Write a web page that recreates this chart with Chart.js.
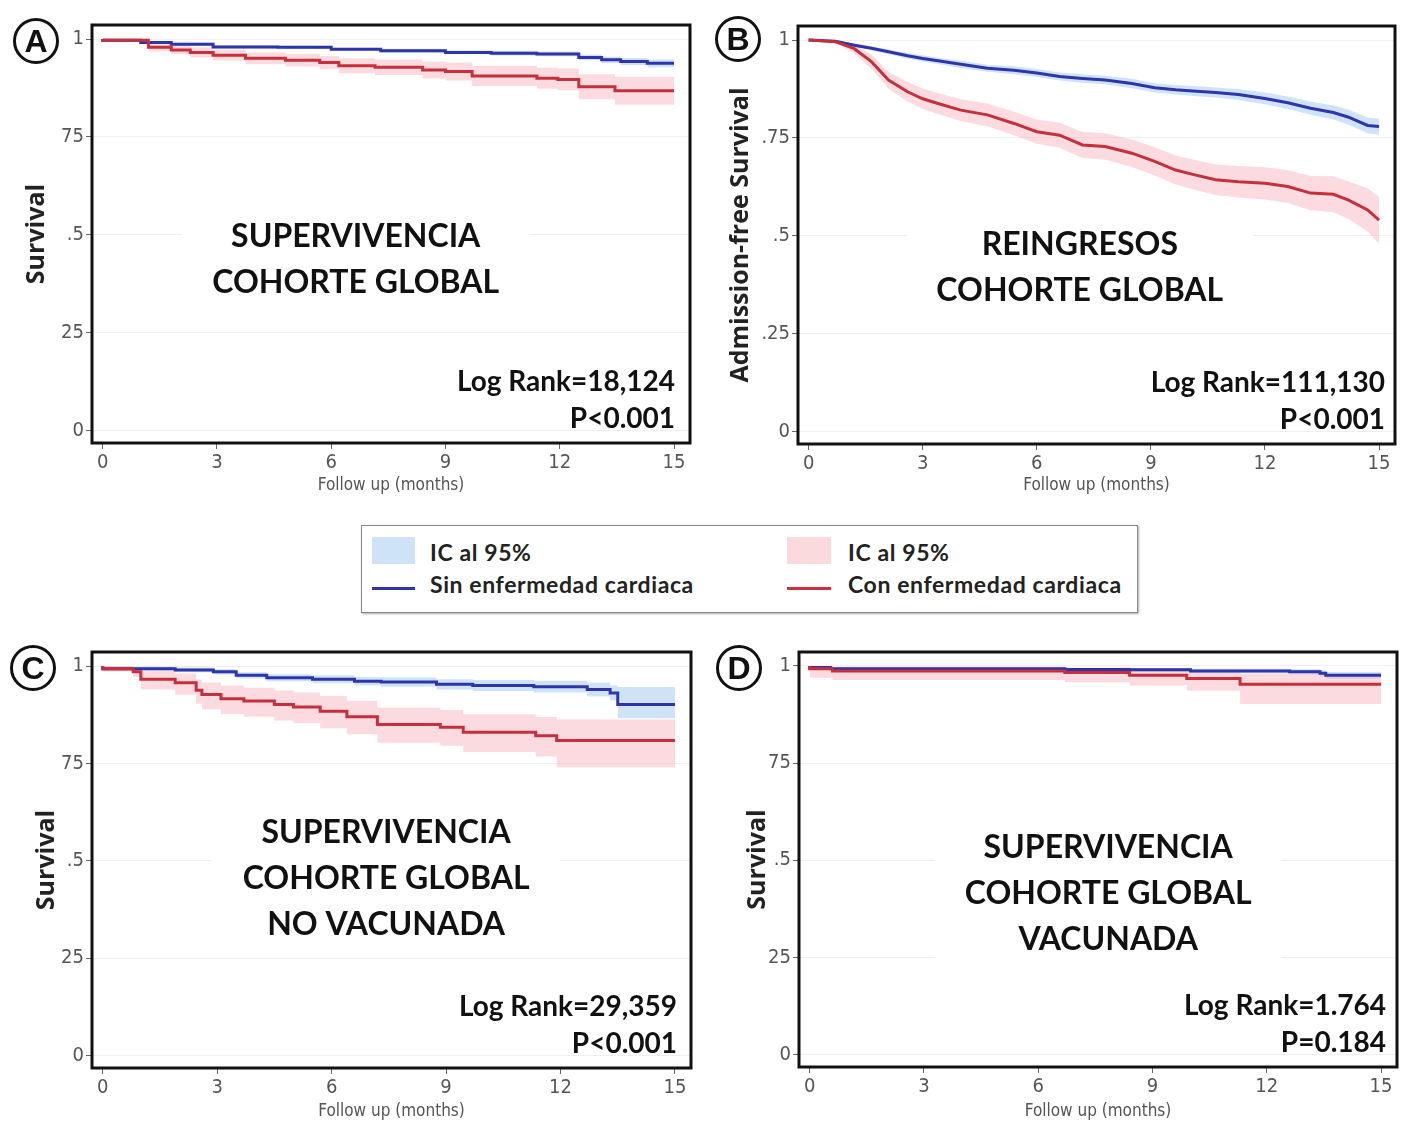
<!DOCTYPE html>
<html>
<head>
<meta charset="utf-8">
<script src="https://cdn.jsdelivr.net/npm/chart.js@4.4.1/dist/chart.umd.min.js"></script>
<style>
body { margin: 0; background: #fff; width: 1403px; height: 1126px; position: relative; overflow: hidden; font-family: Lato, sans-serif; }
canvas { position: absolute; }
.badge { position: absolute; width: 40px; height: 40px; border: 3px solid #111; border-radius: 50%; font: bold 32px "Liberation Sans", Arial, sans-serif; color: #111; text-align: center; line-height: 40px; }
.legend { position: absolute; left: 361px; top: 525px; width: 775px; height: 86px; border: 1px solid #888; box-shadow: 1px 1px 2px #aaa; background: #fff; }
.legend div { position: absolute; }
.legend span { position: absolute; font: bold 23px Lato, sans-serif; letter-spacing: 0.6px; color: #222; white-space: nowrap; }
</style>
</head>
<body>
<canvas id="chartA" width="700" height="500" style="left:0;top:0"></canvas>
<canvas id="chartB" width="703" height="500" style="left:700px;top:0"></canvas>
<canvas id="chartC" width="700" height="496" style="left:0;top:630px"></canvas>
<canvas id="chartD" width="703" height="496" style="left:700px;top:630px"></canvas>

<div class="badge" style="left:13px;top:18px">A</div>
<div class="badge" style="left:715px;top:16px">B</div>
<div class="badge" style="left:10px;top:645px">C</div>
<div class="badge" style="left:716px;top:645px">D</div>

<div class="legend">
  <div style="left:10px;top:11px;width:43px;height:27px;background:#cfe3f8"></div>
  <span style="left:68px;top:12px">IC al 95%</span>
  <div style="left:10px;top:61px;width:43px;height:3px;background:#2e35a8"></div>
  <span style="left:68px;top:44px">Sin enfermedad cardiaca</span>
  <div style="left:425px;top:11px;width:44px;height:27px;background:#fbdadd"></div>
  <span style="left:486px;top:12px">IC al 95%</span>
  <div style="left:425px;top:61px;width:44px;height:3px;background:#c9333d"></div>
  <span style="left:486px;top:44px">Con enfermedad cardiaca</span>
</div>

<script>
// follow-up axis
var xTicks = [0, 3, 6, 9, 12, 15];
var xLabels = ['0', '3', '6', '9', '12', '15'];
var yTicks = [0, 0.25, 0.5, 0.75, 1];
var yLabelsSurv = ['0', '25', '.5', '75', '1'];
var yLabelsAdm = ['0', '.25', '.5', '.75', '1'];

// A: supervivencia cohorte global
var aBlueT  = [0, 1.0, 1.8, 2.9, 4.6, 6.0, 7.3, 9.0, 10.2, 11.4, 12.5, 13.1, 13.6, 14.3, 15];
var aBlueS  = [1, 0.997, 0.991, 0.987, 0.980, 0.979, 0.974, 0.970, 0.966, 0.964, 0.962, 0.953, 0.947, 0.943, 0.938];
var aBlueLo = [1, 0.995, 0.988, 0.983, 0.976, 0.975, 0.970, 0.965, 0.961, 0.958, 0.956, 0.946, 0.939, 0.934, 0.928];
var aBlueHi = [1, 0.999, 0.994, 0.991, 0.984, 0.983, 0.978, 0.975, 0.971, 0.970, 0.968, 0.960, 0.955, 0.952, 0.948];
var aRedT  = [0, 1.2, 1.8, 2.3, 2.9, 3.75, 4.8, 5.7, 6.2, 7.15, 8.4, 9.0, 9.7, 11.4, 11.95, 12.5, 13.45, 14.95, 15];
var aRedS  = [1, 0.997, 0.979, 0.972, 0.966, 0.959, 0.951, 0.946, 0.940, 0.932, 0.928, 0.921, 0.917, 0.906, 0.900, 0.897, 0.878, 0.868, 0.868];
var aRedLo = [1, 0.994, 0.969, 0.961, 0.953, 0.945, 0.936, 0.930, 0.923, 0.913, 0.908, 0.899, 0.894, 0.880, 0.873, 0.869, 0.846, 0.832, 0.832];
var aRedHi = [1, 1.000, 0.989, 0.983, 0.979, 0.973, 0.966, 0.962, 0.957, 0.951, 0.948, 0.943, 0.940, 0.932, 0.927, 0.925, 0.910, 0.904, 0.904];

// B: reingresos cohorte global
var bT = [0, 0.7, 1.2, 1.65, 2.1, 2.6, 3.0, 3.4, 4.0, 4.7, 5.4, 6.0, 6.6, 7.2, 7.8, 8.5, 9.1, 9.65, 10.1, 10.7, 11.3, 12.0, 12.6, 13.2, 13.8, 14.2, 14.7, 15];
var bBlueS  = [1, 0.997, 0.987, 0.979, 0.970, 0.960, 0.953, 0.947, 0.938, 0.928, 0.923, 0.916, 0.907, 0.902, 0.898, 0.889, 0.878, 0.873, 0.870, 0.866, 0.861, 0.851, 0.840, 0.826, 0.815, 0.803, 0.782, 0.779];
var bBlueLo = [1, 0.995, 0.983, 0.974, 0.964, 0.953, 0.945, 0.939, 0.929, 0.919, 0.913, 0.906, 0.897, 0.891, 0.887, 0.877, 0.866, 0.861, 0.857, 0.853, 0.847, 0.836, 0.824, 0.809, 0.797, 0.784, 0.762, 0.759];
var bBlueHi = [1, 0.999, 0.991, 0.984, 0.976, 0.967, 0.961, 0.955, 0.947, 0.937, 0.933, 0.926, 0.917, 0.913, 0.909, 0.901, 0.890, 0.885, 0.883, 0.879, 0.875, 0.866, 0.856, 0.843, 0.833, 0.822, 0.802, 0.799];
var bRedS  = [1, 0.996, 0.978, 0.945, 0.898, 0.868, 0.850, 0.838, 0.821, 0.809, 0.787, 0.766, 0.757, 0.732, 0.728, 0.711, 0.690, 0.668, 0.657, 0.643, 0.638, 0.634, 0.626, 0.609, 0.606, 0.591, 0.566, 0.540];
var bRedLo = [1, 0.992, 0.966, 0.927, 0.876, 0.843, 0.824, 0.811, 0.793, 0.780, 0.757, 0.735, 0.725, 0.699, 0.694, 0.676, 0.654, 0.631, 0.619, 0.604, 0.598, 0.593, 0.584, 0.565, 0.560, 0.543, 0.511, 0.480];
var bRedHi = [1, 1.000, 0.990, 0.963, 0.920, 0.893, 0.876, 0.865, 0.849, 0.838, 0.817, 0.797, 0.789, 0.765, 0.762, 0.746, 0.726, 0.705, 0.695, 0.682, 0.678, 0.675, 0.668, 0.653, 0.652, 0.639, 0.621, 0.600];

// C: no vacunada
var cBlueT  = [0, 1.9, 2.9, 3.5, 4.3, 5.5, 6.6, 7.3, 8.75, 9.7, 11.3, 12.7, 13.3, 13.5, 14.3, 15];
var cBlueS  = [1, 0.993, 0.990, 0.985, 0.976, 0.970, 0.966, 0.961, 0.959, 0.953, 0.950, 0.947, 0.940, 0.931, 0.901, 0.901];
var cBlueLo = [1, 0.988, 0.984, 0.978, 0.968, 0.961, 0.956, 0.950, 0.947, 0.940, 0.936, 0.932, 0.922, 0.912, 0.866, 0.866];
var cBlueHi = [1, 0.998, 0.996, 0.992, 0.984, 0.979, 0.976, 0.972, 0.971, 0.966, 0.964, 0.962, 0.958, 0.950, 0.946, 0.946];
var cRedT  = [0, 0.8, 1.0, 1.9, 2.45, 2.6, 3.1, 3.7, 4.5, 5.0, 5.7, 6.4, 7.2, 8.85, 9.45, 11.35, 11.9, 13.1, 15];
var cRedS  = [1, 0.993, 0.985, 0.966, 0.957, 0.938, 0.927, 0.916, 0.910, 0.901, 0.895, 0.884, 0.870, 0.850, 0.843, 0.830, 0.821, 0.809, 0.809];
var cRedLo = [1, 0.985, 0.972, 0.940, 0.926, 0.903, 0.889, 0.877, 0.870, 0.860, 0.853, 0.840, 0.825, 0.803, 0.795, 0.779, 0.768, 0.740, 0.740];
var cRedHi = [1, 1.000, 0.996, 0.987, 0.981, 0.965, 0.958, 0.950, 0.944, 0.937, 0.932, 0.923, 0.911, 0.893, 0.887, 0.876, 0.869, 0.863, 0.863];

// D: vacunada
var dBlueT  = [0, 0.55, 6.7, 8.4, 10.0, 12.6, 13.4, 13.55, 14.35, 15];
var dBlueS  = [1, 0.996, 0.993, 0.991, 0.990, 0.987, 0.985, 0.981, 0.976, 0.976];
var dBlueLo = [1, 0.993, 0.989, 0.987, 0.985, 0.981, 0.978, 0.973, 0.967, 0.967];
var dBlueHi = [1, 0.999, 0.997, 0.995, 0.995, 0.993, 0.992, 0.989, 0.985, 0.985];
var dRedT  = [0, 0.6, 6.7, 8.4, 9.9, 11.3, 13.45, 15];
var dRedS  = [1, 0.993, 0.987, 0.983, 0.976, 0.968, 0.953, 0.953];
var dRedLo = [1, 0.970, 0.964, 0.958, 0.950, 0.936, 0.902, 0.902];
var dRedHi = [1, 1.000, 0.998, 0.996, 0.992, 0.988, 0.980, 0.980];

var BLUE = '#2e35a8';
var RED = '#c4303b';
var BLUE_BAND = 'rgba(160, 200, 242, 0.5)';
var RED_BAND = 'rgba(246, 170, 178, 0.42)';
var AXIS_FONT = "'Liberation Sans Narrow', 'DejaVu Sans Condensed', sans-serif";

function pts(t, s) {
    return t.map(function (x, i) { return { x: x, y: s[i] }; });
}

function kmSets(bt, bs, blo, bhi, rt, rs, rlo, rhi, stepped) {
    var base = { pointRadius: 0, stepped: stepped, tension: 0 };
    return [
        Object.assign({ data: pts(bt, bhi), borderWidth: 0, fill: false, order: 6 }, base),
        Object.assign({ data: pts(bt, blo), borderWidth: 0, fill: '-1', backgroundColor: BLUE_BAND, order: 5 }, base),
        Object.assign({ data: pts(rt, rhi), borderWidth: 0, fill: false, order: 4 }, base),
        Object.assign({ data: pts(rt, rlo), borderWidth: 0, fill: '-1', backgroundColor: RED_BAND, order: 3 }, base),
        Object.assign({ data: pts(bt, bs), borderColor: BLUE, borderWidth: 3, fill: false, order: 2 }, base),
        Object.assign({ data: pts(rt, rs), borderColor: RED, borderWidth: 3, fill: false, order: 1 }, base)
    ];
}

// frame box + panel captions
var panelText = {
    id: 'panelText',
    beforeDatasetsDraw: function (chart, args, opts) {
        var ctx = chart.ctx, a = chart.chartArea;
        var cx = a.left + opts.cx * (a.right - a.left);
        var cy = a.top + opts.cy * (a.bottom - a.top);
        ctx.save();
        ctx.font = 'bold 32px Lato, sans-serif';
        var w = 0;
        opts.lines.forEach(function (t) { w = Math.max(w, ctx.measureText(t).width); });
        ctx.fillStyle = '#fff';
        ctx.fillRect(cx - w / 2 - 30, cy - 25, w + 60, opts.lines.length * 46 + 4);
        ctx.fillStyle = '#111';
        ctx.textAlign = 'center';
        ctx.textBaseline = 'middle';
        opts.lines.forEach(function (t, i) { ctx.fillText(t, cx, cy + i * 46); });
        ctx.font = 'bold 28px Lato, sans-serif';
        ctx.textAlign = 'right';
        ctx.fillText(opts.stats[0], a.right - opts.inset, a.bottom - 61);
        ctx.fillText(opts.stats[1], a.right - opts.inset, a.bottom - 24);
        ctx.restore();
    },
    afterDraw: function (chart) {
        var ctx = chart.ctx, a = chart.chartArea;
        ctx.save();
        ctx.lineWidth = 3;
        ctx.strokeStyle = '#111';
        ctx.strokeRect(a.left, a.top, a.right - a.left, a.bottom - a.top);
        ctx.restore();
    }
};

function makeChart(id, cfg) {
    new Chart(document.getElementById(id), {
        type: 'line',
        data: { datasets: cfg.datasets },
        plugins: [panelText],
        options: {
            responsive: false,
            animation: false,
            layout: { padding: cfg.padding },
            plugins: {
                legend: { display: false },
                tooltip: { enabled: false },
                panelText: cfg.text
            },
            scales: {
                x: {
                    type: 'linear',
                    min: -0.28,
                    max: 15.42,
                    afterBuildTicks: function (s) { s.ticks = xTicks.map(function (v) { return { value: v }; }); },
                    afterFit: function (s) { s.height = cfg.xHeight; },
                    grid: { drawOnChartArea: false, drawTicks: true, tickLength: 6, tickColor: '#666' },
                    border: { display: false },
                    ticks: {
                        color: '#555', padding: 2, maxRotation: 0, autoSkip: false,
                        font: { family: AXIS_FONT, size: 20 },
                        callback: function (v, i) { return xLabels[i]; }
                    },
                    title: {
                        display: true, text: 'Follow up (months)', color: '#555',
                        font: { family: AXIS_FONT, size: 17 }, padding: { top: 0, bottom: 4 }
                    }
                },
                y: {
                    min: -0.032,
                    max: 1.036,
                    afterBuildTicks: function (s) { s.ticks = yTicks.map(function (v) { return { value: v }; }); },
                    afterFit: function (s) { s.width = cfg.yWidth; },
                    grid: { color: '#efefef', drawTicks: true, tickLength: 6, tickColor: '#666' },
                    border: { display: false },
                    ticks: {
                        color: '#555', padding: 2, autoSkip: false,
                        font: { family: AXIS_FONT, size: 20 },
                        callback: function (v, i) { return cfg.yLabels[i]; }
                    },
                    title: {
                        display: true, text: cfg.yTitle, color: '#222',
                        font: { family: "'Open Sans', sans-serif", size: 25, weight: 'bold' },
                        padding: { top: cfg.yTitlePad, bottom: 0 }
                    }
                }
            }
        }
    });
}

makeChart('chartA', {
    datasets: kmSets(aBlueT, aBlueS, aBlueLo, aBlueHi, aRedT, aRedS, aRedLo, aRedHi, 'after'),
    padding: { top: 25, right: 10, left: 0, bottom: 0 },
    xHeight: 57, yWidth: 92, yLabels: yLabelsSurv, yTitle: 'Survival', yTitlePad: 22,
    text: { lines: ['SUPERVIVENCIA', 'COHORTE GLOBAL'], cx: 0.441, cy: 0.507, stats: ['Log Rank=18,124', 'P<0.001'], inset: 15 }
});

makeChart('chartB', {
    datasets: kmSets(bT, bBlueS, bBlueLo, bBlueHi, bT, bRedS, bRedLo, bRedHi, false),
    padding: { top: 26, right: 8, left: 0, bottom: 0 },
    xHeight: 56, yWidth: 98, yLabels: yLabelsAdm, yTitle: 'Admission-free Survival', yTitlePad: 26,
    text: { lines: ['REINGRESOS', 'COHORTE GLOBAL'], cx: 0.472, cy: 0.522, stats: ['Log Rank=111,130', 'P<0.001'], inset: 10 }
});

makeChart('chartC', {
    datasets: kmSets(cBlueT, cBlueS, cBlueLo, cBlueHi, cRedT, cRedS, cRedLo, cRedHi, 'after'),
    padding: { top: 22, right: 9, left: 0, bottom: 0 },
    xHeight: 58, yWidth: 92, yLabels: yLabelsSurv, yTitle: 'Survival', yTitlePad: 32,
    text: { lines: ['SUPERVIVENCIA', 'COHORTE GLOBAL', 'NO VACUNADA'], cx: 0.491, cy: 0.435, stats: ['Log Rank=29,359', 'P<0.001'], inset: 14 }
});

makeChart('chartD', {
    datasets: kmSets(dBlueT, dBlueS, dBlueLo, dBlueHi, dRedT, dRedS, dRedLo, dRedHi, 'after'),
    padding: { top: 22, right: 6, left: 0, bottom: 0 },
    xHeight: 59, yWidth: 99, yLabels: yLabelsSurv, yTitle: 'Survival', yTitlePad: 43,
    text: { lines: ['SUPERVIVENCIA', 'COHORTE GLOBAL', 'VACUNADA'], cx: 0.517, cy: 0.472, stats: ['Log Rank=1.764', 'P=0.184'], inset: 11 }
});
</script>
</body>
</html>
